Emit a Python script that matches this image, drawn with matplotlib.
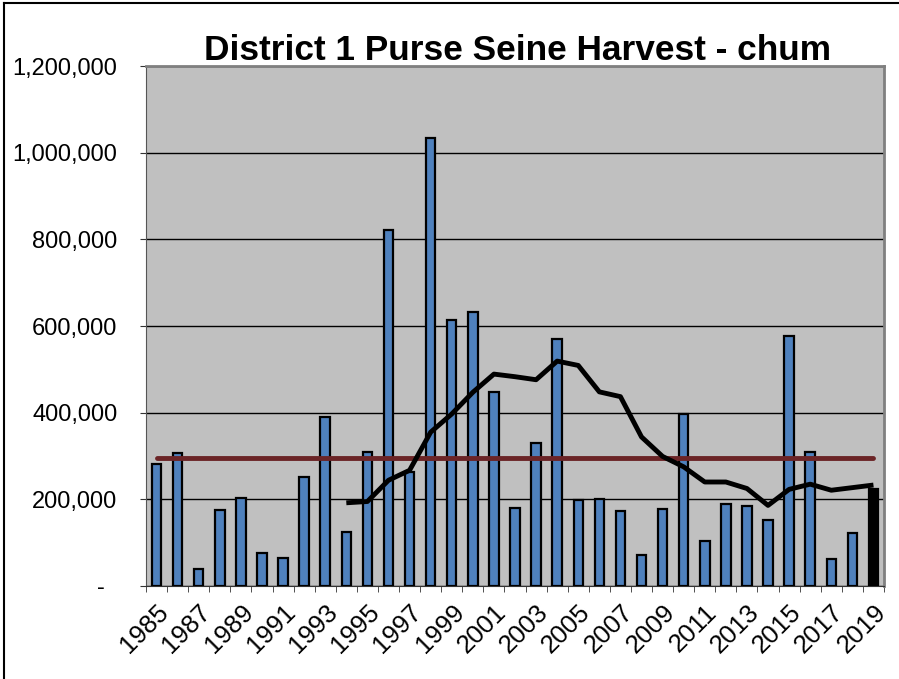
import matplotlib as mpl

mpl.use("Agg")
import matplotlib.pyplot as plt
import numpy as np
from matplotlib.ticker import FuncFormatter

# Harvest per year
years = list(range(1985, 2020))
harvest = [
    281000, 306000, 40000, 176000, 203000, 77000, 65000, 251000, 391000, 125000,
    309000, 821000, 262000, 1033000, 615000, 632000, 448000, 181000, 330000, 569000,
    198000, 200000, 174000, 72000, 177000, 396000, 104000, 189000, 184000, 152000,
    576000, 309000, 62000, 122000, 225000,
]
# Running average line, starts in 1994
avg_years = list(range(1994, 2020))
avg_values = [
    192000, 195000, 244000, 267000, 355000, 397000, 447000, 489000, 483000, 476000,
    519000, 509000, 448000, 437000, 344000, 299000, 275000, 240000, 240000, 225000,
    186000, 223000, 235000, 221000, 227000, 233000,
]
long_term_avg = 295000

plt.rcParams["font.family"] = ["Liberation Sans", "DejaVu Sans"]

fig = plt.figure(figsize=(8.99, 6.79), dpi=100)
ax = fig.add_axes([146 / 899, 1 - 586 / 679, (884 - 146) / 899, (586 - 66) / 679])
ax.set_facecolor("#c0c0c0")

x = np.arange(len(years))
colors = ["#4f81bd"] * (len(years) - 1) + ["black"]
ax.bar(x, harvest, width=0.45, color=colors, edgecolor="black", linewidth=1.6, zorder=3)

avg_x = [years.index(y) for y in avg_years]
ax.plot(avg_x, avg_values, color="black", linewidth=3.5, zorder=5, solid_capstyle="butt")
ax.plot([x[0], x[-1]], [long_term_avg] * 2, color="#6b2426", linewidth=3.5,
        zorder=4, solid_capstyle="round")

ax.set_xlim(-0.5, len(years) - 0.5)
ax.set_ylim(0, 1200000)
ax.set_yticks(np.arange(0, 1200001, 200000))
ax.yaxis.set_major_formatter(
    FuncFormatter(lambda v, p: "-  " if v == 0 else f"{int(v):,}"))
ax.grid(axis="y", color="black", linewidth=1.0, zorder=1)

ax.set_xticks(x[::2])
ax.set_xticklabels([str(y) for y in years[::2]], rotation=45, ha="right",
                   va="top", rotation_mode="anchor")
ax.set_xticks(np.arange(-0.5, len(years), 1), minor=True)
ax.tick_params(axis="x", which="major", length=0, labelsize=18.5, pad=10)
ax.tick_params(axis="x", which="minor", length=4.5, color="#333333")
ax.tick_params(axis="y", length=4.5, labelsize=17, pad=16, color="#333333")

for side in ("top", "right"):
    ax.spines[side].set_color("#808080")
    ax.spines[side].set_linewidth(2)
ax.spines["left"].set_color("#555555")
ax.spines["bottom"].set_color("#333333")

fig.text(518 / 899, 1 - 50 / 679, "District 1 Purse Seine Harvest - chum",
         ha="center", va="center", fontsize=25.4, fontweight="bold")

# frame lines at top and left of the chart area
fig.add_artist(plt.Line2D([4 / 899, 1], [1 - 3 / 679] * 2, color="black", linewidth=1.5))
fig.add_artist(plt.Line2D([4 / 899] * 2, [0, 1 - 3 / 679], color="black", linewidth=1.5))

fig.savefig("out.png", dpi=100)
